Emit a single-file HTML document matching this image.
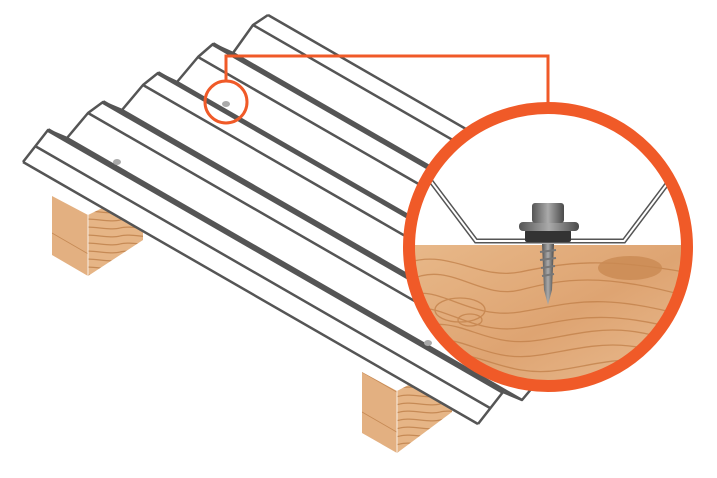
<!DOCTYPE html>
<html><head><style>
html,body{margin:0;padding:0;background:#fff;}
svg{display:block;}
</style></head><body>
<svg width="717" height="478" viewBox="0 0 717 478" xmlns="http://www.w3.org/2000/svg">
<defs>
<linearGradient id="wood" x1="0" y1="0" x2="1" y2="1">
<stop offset="0" stop-color="#e8b98a"/><stop offset="0.5" stop-color="#dea472"/><stop offset="1" stop-color="#ecc197"/>
</linearGradient>
<pattern id="grain" width="40" height="8" patternUnits="userSpaceOnUse">
<rect width="40" height="8" fill="#e6b586"/>
<path d="M0,4 C10,1 30,7 40,4" stroke="#c68a55" stroke-width="1.2" fill="none"/>
</pattern>
<pattern id="vgrain" width="6" height="40" patternUnits="userSpaceOnUse" patternTransform="skewY(30)">
<rect width="6" height="40" fill="#e3b081"/>
<line x1="0" y1="3" x2="6" y2="3" stroke="#c68a55" stroke-width="1"/>
</pattern>
<clipPath id="cc"><circle cx="548" cy="247" r="139"/></clipPath>
<clipPath id="sheetclip"><rect x="0" y="0" width="600" height="478"/></clipPath>
<linearGradient id="steel" x1="0" x2="1"><stop offset="0" stop-color="#555"/><stop offset="0.5" stop-color="#aaa"/><stop offset="1" stop-color="#4a4a4a"/></linearGradient>
</defs>
<!-- beams -->
<polygon points="52,196 88,215 88,276 52,255" fill="url(#vgrain)"/>
<polygon points="88,215 143,188 143,240 88,276" fill="url(#grain)"/>
<line x1="88" y1="215" x2="88" y2="276" stroke="#fff" stroke-width="0.8"/>
<polygon points="362,372 397,391 397,453 362,433" fill="url(#vgrain)"/>
<polygon points="397,391 452,362 452,412 397,453" fill="url(#grain)"/>
<line x1="397" y1="391" x2="397" y2="453" stroke="#fff" stroke-width="0.8"/>
<!-- sheet -->
<g clip-path="url(#sheetclip)">
<polygon points="23,162 48,130 67,138 88,113 103,102 122,110 143,85 158,73 177,82 198,57 213,44 233,53 253,25 268,15 723,277 478,424" fill="#fff"/>
<g stroke="#555" stroke-width="2.5" fill="none" stroke-linejoin="round">
<polyline points="23,162 48,130 67,138 88,113 103,102 122,110 143,85 158,73 177,82 198,57 213,44 233,53 253,25 268,15"/>
<polyline transform="translate(455,262)" points="23,162 48,130 67,138 88,113 103,102 122,110 143,85 158,73 177,82 198,57 213,44 233,53 253,25 268,15"/>
<line x1="23" y1="162" x2="478" y2="424"/>
<line x1="48" y1="130" x2="503" y2="392" stroke-width="4"/>
<line x1="35" y1="146" x2="490" y2="408"/>
<line x1="67" y1="138" x2="522" y2="400"/>
<line x1="88" y1="113" x2="543" y2="375"/>
<line x1="103" y1="102" x2="558" y2="364" stroke-width="4"/>
<line x1="122" y1="110" x2="577" y2="372"/>
<line x1="143" y1="85" x2="598" y2="347"/>
<line x1="158" y1="73" x2="613" y2="335" stroke-width="4"/>
<line x1="177" y1="82" x2="632" y2="344"/>
<line x1="198" y1="57" x2="653" y2="319"/>
<line x1="213" y1="44" x2="668" y2="306" stroke-width="4"/>
<line x1="233" y1="53" x2="688" y2="315"/>
<line x1="253" y1="25" x2="708" y2="287"/>
<line x1="268" y1="15" x2="723" y2="277"/>
</g>
</g>
<ellipse cx="117" cy="162" rx="4" ry="3" fill="#aaa"/>
<ellipse cx="226" cy="104" rx="4" ry="3" fill="#aaa"/>
<ellipse cx="428" cy="343" rx="4" ry="3" fill="#aaa"/>
<!-- connector -->
<g stroke="#f05a28" stroke-width="3" fill="none">
<circle cx="226" cy="102" r="21"/>
<polyline points="226,81 226,56 548,56 548,108"/>
</g>
<!-- detail -->
<circle cx="548" cy="247" r="139" fill="#fff"/>
<g clip-path="url(#cc)">
<rect x="400" y="245" width="300" height="160" fill="url(#wood)"/>
<g stroke="#c07f48" stroke-width="1.3" fill="none" opacity="0.75">
<path d="M410,262 C450,250 480,280 520,272 S600,255 700,275"/>
<path d="M410,280 C450,260 480,300 520,290 S600,270 700,300"/>
<path d="M410,295 C440,285 470,320 520,312 S600,290 700,320"/>
<path d="M410,310 C440,300 470,335 520,328 S600,305 700,335"/>
<path d="M410,330 C460,310 480,350 540,340 S620,320 700,350"/>
<path d="M410,345 C460,325 480,365 540,355 S620,335 700,365"/>
<path d="M430,360 C470,340 500,380 560,370 S640,350 700,380"/>
<path d="M430,375 C470,355 500,395 560,385 S640,365 700,395"/>
<ellipse cx="460" cy="310" rx="25" ry="12"/>
<ellipse cx="470" cy="320" rx="12" ry="6"/>
</g>
<ellipse cx="630" cy="268" rx="32" ry="12" fill="#c98a52" opacity="0.8"/>
<path d="M430,180 L476,241 L624,241 L670,180" stroke="#555" stroke-width="5" fill="none"/>
<path d="M430,180 L476,241 L624,241 L670,180" stroke="#fff" stroke-width="2" fill="none"/>
</g>
<!-- screw -->
<polygon points="542,244 554,244 552,290 548,305 544,290" fill="url(#steel)"/>
<g stroke="#777" stroke-width="2"><line x1="540" y1="252" x2="556" y2="250"/><line x1="540" y1="260" x2="556" y2="258"/><line x1="541" y1="268" x2="555" y2="266"/><line x1="542" y1="276" x2="554" y2="274"/></g>
<rect x="525" y="230" width="46" height="12" rx="2" fill="#333"/>
<rect x="519" y="222" width="60" height="9" rx="4" fill="url(#steel)"/>
<rect x="532" y="203" width="32" height="20" rx="3" fill="url(#steel)"/>
<circle cx="548" cy="247" r="139" fill="none" stroke="#f05a28" stroke-width="12"/>
</svg>
</body></html>
